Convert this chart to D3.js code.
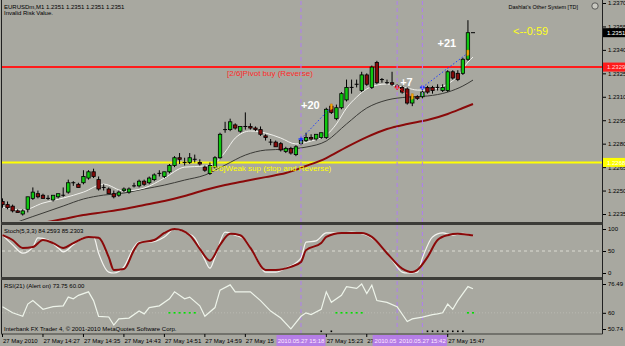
<!DOCTYPE html>
<html>
<head>
<meta charset="utf-8">
<script src="https://d3js.org/d3.v7.min.js"></script>
<style>
  body { margin: 0; background: #a8a8a0; }
  svg { display: block; }
  text { font-family: "Liberation Sans", Arial, sans-serif; }
</style>
</head>
<body>
<svg id="chart" width="625" height="346"></svg>
<script>

// EURUSDm M1, 27 May 2010, bars 14:19 .. 15:52
var openP = [1.2243,1.2241,1.2240,1.2237,1.2235,1.2238,1.2245,1.2248,1.2247,1.2245,
  1.2244,1.2246,1.2247,1.2249,1.2255,1.2254,1.2255,1.2258,1.2262,1.2257,
  1.2252,1.2251,1.2248,1.2247,1.2250,1.2249,1.2253,1.2253,1.2256,1.2255,
  1.2257,1.2261,1.2259,1.2262,1.2266,1.2271,1.2268,1.2268,1.2270,1.2268,
  1.2265,1.2261,1.2265,1.2271,1.2289,1.2289,1.2292,1.2288,1.2291,1.2291,
  1.2290,1.2289,1.2285,1.2281,1.2281,1.2280,1.2275,1.2277,1.2273,1.2280,
  1.2282,1.2284,1.2283,1.2284,1.2284,1.2304,1.2296,1.2303,1.2308,1.2316,
  1.2318,1.2314,1.2324,1.2316,1.2332,1.2321,1.2319,1.2319,1.2317,1.2316,
  1.2315,1.2306,1.2310,1.2310,1.2316,1.2316,1.2316,1.2314,1.2314,1.2326,
  1.2325,1.2325,1.2334,1.2351];
var highP = [1.2245,1.2243,1.2241,1.2238,1.2238,1.2246,1.2252,1.2250,1.2248,1.2247,
  1.2247,1.2248,1.2252,1.2257,1.2256,1.2255,1.2263,1.2263,1.2264,1.2259,
  1.2254,1.2252,1.2250,1.2250,1.2252,1.2252,1.2255,1.2257,1.2257,1.2259,
  1.2261,1.2263,1.2262,1.2267,1.2272,1.2274,1.2271,1.2274,1.2273,1.2270,
  1.2266,1.2268,1.2272,1.2287,1.2294,1.2296,1.2293,1.2291,1.2300,1.2293,
  1.2291,1.2291,1.2286,1.2283,1.2282,1.2281,1.2278,1.2278,1.2279,1.2284,
  1.2287,1.2286,1.2286,1.2287,1.2303,1.2305,1.2305,1.2313,1.2321,1.2321,
  1.2321,1.2326,1.2325,1.2330,1.2333,1.2322,1.2321,1.2326,1.2318,1.2317,
  1.2316,1.2311,1.2311,1.2314,1.2317,1.2317,1.2318,1.2318,1.2327,1.2327,
  1.2327,1.2335,1.2359,1.2351];
var lowP = [1.2239,1.2238,1.2236,1.2236,1.2234,1.2236,1.2244,1.2245,1.2245,1.2244,
  1.2243,1.2245,1.2246,1.2248,1.2253,1.2252,1.2254,1.2257,1.2258,1.2250,
  1.2250,1.2248,1.2245,1.2246,1.2249,1.2248,1.2252,1.2252,1.2253,1.2254,
  1.2256,1.2259,1.2258,1.2261,1.2265,1.2267,1.2266,1.2267,1.2268,1.2266,
  1.2262,1.2260,1.2264,1.2270,1.2287,1.2288,1.2289,1.2287,1.2289,1.2289,
  1.2288,1.2285,1.2282,1.2279,1.2278,1.2275,1.2274,1.2273,1.2272,1.2279,
  1.2281,1.2282,1.2282,1.2283,1.2283,1.2299,1.2295,1.2302,1.2307,1.2312,
  1.2316,1.2313,1.2317,1.2315,1.2318,1.2319,1.2318,1.2317,1.2315,1.2312,
  1.2305,1.2304,1.2308,1.2309,1.2312,1.2312,1.2314,1.2313,1.2313,1.2321,
  1.2320,1.2324,1.2333,1.2351];
var closeP = [1.2241,1.2239,1.2237,1.2236,1.2237,1.2246,1.2249,1.2246,1.2245,1.2245,
  1.2247,1.2248,1.2247,1.2255,1.2255,1.2252,1.2259,1.2262,1.2259,1.2251,
  1.2252,1.2248,1.2246,1.2249,1.2251,1.2251,1.2253,1.2256,1.2254,1.2258,
  1.2260,1.2261,1.2262,1.2266,1.2271,1.2270,1.2268,1.2271,1.2270,1.2267,
  1.2263,1.2266,1.2271,1.2286,1.2289,1.2294,1.2290,1.2291,1.2291,1.2290,
  1.2289,1.2286,1.2284,1.2281,1.2278,1.2276,1.2277,1.2274,1.2278,1.2282,
  1.2284,1.2283,1.2286,1.2287,1.2302,1.2300,1.2303,1.2312,1.2316,1.2316,
  1.2318,1.2324,1.2318,1.2329,1.2319,1.2321,1.2319,1.2318,1.2316,1.2313,
  1.2306,1.2310,1.2309,1.2313,1.2313,1.2314,1.2316,1.2316,1.2326,1.2322,
  1.2321,1.2334,1.2351,1.2351];

// moving averages, read at sample bars
var fastBars = [0,4,8,12,16,20,24,28,32,36,40,42,44,46,49,52,55,58,61,64,66,68,70,72,74,76,78,80,82,84,86,88,90,92,93];
var fastMA = [1.22394,1.22375,1.22420,1.22452,1.22490,1.22541,1.22497,1.22516,1.22580,1.22650,1.22657,1.22676,1.22746,1.22836,1.22881,1.22868,1.22836,1.22798,1.22817,1.22855,1.22926,1.23028,1.23098,1.23150,1.23175,1.23182,1.23169,1.23156,1.23143,1.23143,1.23156,1.23182,1.23233,1.23322,1.23354];
var midBars = [0,4,8,12,16,20,24,28,32,36,40,44,48,52,56,60,64,68,72,76,80,84,88,91,93];
var midMA = [1.22260,1.22311,1.22356,1.22401,1.22446,1.22471,1.22484,1.22510,1.22535,1.22567,1.22599,1.22663,1.22727,1.22759,1.22765,1.22778,1.22817,1.22926,1.23028,1.23079,1.23098,1.23105,1.23130,1.23169,1.23207];
var slowBars = [0,4,8,12,16,20,24,28,32,36,40,44,48,52,56,60,64,68,72,76,80,84,88,91,93];
var slowMA = [1.22209,1.22247,1.22292,1.22318,1.22343,1.22362,1.22382,1.22407,1.22433,1.22465,1.22503,1.22535,1.22561,1.22586,1.22612,1.22657,1.22708,1.22778,1.22842,1.22894,1.22926,1.22951,1.22990,1.23028,1.23054];

// stochastic (5,3,3)
var stochBars = [0,2,4,6,7,9,11,12,14,16,18,19,21,22,24,26,27,29,32,34,36,38,40,41,42,44,46,48,50,52,54,56,59,60,62,64,67,69,72,75,77,79,80,82,83,85,87,89,91,93];
var stochMain = [86,64,45,59,80,75,57,48,64,80,82,45,2,0,14,59,70,70,82,100,93,80,30,11,36,93,86,75,36,2,2,11,34,70,73,91,91,93,86,59,30,2,0,2,34,82,91,86,90,84];
var signalBars = [0,2,4,6,8,10,12,14,17,19,21,22,24,26,27,30,32,34,37,39,41,43,45,47,49,52,54,57,59,60,63,64,67,71,73,76,79,81,82,84,86,88,90,93];
var stochSignal = [86,75,57,59,75,68,57,68,82,80,36,7,9,52,68,75,91,100,86,55,28,64,89,86,57,7,7,14,25,52,68,82,91,91,82,45,10,2,7,36,75,86,89,85];

// RSI(21)
var rsiBars = [0,2,4,5,6,8,10,12,13,14,15,17,18,19,21,22,23,25,27,28,29,31,33,34,36,37,39,40,42,43,45,46,49,51,53,55,57,59,60,61,63,64,65,67,68,70,71,72,73,74,76,78,80,81,83,85,86,87,88,89,90,92,93];
var rsiVals = [63.5,60,58,65,67,62,63.5,64,69,68,70,72,67,58,57.6,53,56.5,57,61,59.4,63,64,68,72,68,69,64,58,63,73,76,72,72,67,61,57,50.8,58,60,59,62,72,66,70,75,74,76.49,71,75.8,67,66,63.5,55,56.5,57.5,59,59.4,60,65,62,67,75,73.75];
var rsiGreenDots = [33,34,35,36,37,38,66,67,68,69,70,71,92,93];
var blackDots = [63,65,84,85,86,87,88,89,90,91];

// levels and signals
var pivotBuy = 1.2329, weakSup = 1.2268, lastPrice = 1.2351;
var priceTicks = [1.2370,1.2355,1.2340,1.2325,1.2310,1.2295,1.2280,1.2265,1.2250,1.2235];
// time labels as visible on the terminal (parts under the line boxes are hidden)
var timeTickBars = [0,8,16,24,32,40,48,64,72,88];
var timeTickLabels = ["27 May 2010","27 May 14:27","27 May 14:35","27 May 14:43","27 May 14:51","27 May 14:59",
  "27 May 15","27 May 15:23","27","27 May 15:47"];
var vLineBars = [59,78,83];
var vLineLabels = ["2010.05.27 15:18","2010.05","2010.05.27 15:42"];
var tradeStart = [59,78,83], tradeStartP = [1.2283,1.2316,1.2316], tradeColor = ["#1f3cff","#ff2020","#1f3cff"];
var tradeEnd = [65,81,92], tradeEndP = [1.23035,1.2310,1.2338];
var pipLabels = ["+20","+7","+21"], pipBars = [59,78.6,86], pipP = [1.2302,1.2317,1.2342];

var svg = d3.select("#chart");
var left = 2, right = 602, boxW = 49;

var x = d3.scaleLinear().domain([0, 93]).range([2.5, 473]);
var y = d3.scaleLinear().domain([1.2235, 1.2370]).range([214, 3]);
var yS = d3.scaleLinear().domain([0, 100]).range([273, 229]);
var yR = d3.scaleLinear().domain([50.74, 76.49]).range([329, 284]);

var defs = svg.append("defs");
[["clipMain",1,221],["clipStoch",225,277],["clipRsi",280,333]].forEach(function(c) {
  defs.append("clipPath").attr("id", c[0]).append("rect")
    .attr("x", left).attr("y", c[1]).attr("width", right - left).attr("height", c[2] - c[1]);
});

svg.append("rect").attr("width", 625).attr("height", 346).attr("fill", "#a8a8a0");

var gMain = svg.append("g").attr("clip-path", "url(#clipMain)");

// level lines
gMain.append("line").attr("x1", left).attr("x2", right)
  .attr("y1", y(pivotBuy)).attr("y2", y(pivotBuy))
  .attr("stroke", "#ff1a1a").attr("stroke-width", 2);
gMain.append("line").attr("x1", left).attr("x2", right)
  .attr("y1", y(weakSup)).attr("y2", y(weakSup))
  .attr("stroke", "#ffff00").attr("stroke-width", 2);

// vertical lines across all panels
svg.selectAll("line.vl").data(vLineBars).join("line")
  .attr("class", "vl")
  .attr("x1", function(d) { return x(d); }).attr("x2", function(d) { return x(d); })
  .attr("y1", 1).attr("y2", 334)
  .attr("stroke", "#b07ef0").attr("stroke-width", 1).attr("stroke-dasharray", "4,3");

// moving averages
function maLine(bars, vals) {
  return d3.line().curve(d3.curveMonotoneX)
    .x(function(d, i) { return x(bars[i]); })
    .y(function(d) { return y(d); })(vals);
}
gMain.append("path").attr("d", maLine(slowBars, slowMA))
  .attr("fill", "none").attr("stroke", "#8a0a0a").attr("stroke-width", 2);
gMain.append("path").attr("d", maLine(midBars, midMA))
  .attr("fill", "none").attr("stroke", "#3a3a36").attr("stroke-width", 1);
gMain.append("path").attr("d", maLine(fastBars, fastMA))
  .attr("fill", "none").attr("stroke", "#f2f2ee").attr("stroke-width", 1);

// candles
var candles = openP.map(function(o, i) {
  return { i: i, o: o, h: highP[i], l: lowP[i], c: closeP[i] };
});
gMain.selectAll("line.wick").data(candles).join("line")
  .attr("class", "wick")
  .attr("x1", function(d) { return x(d.i); }).attr("x2", function(d) { return x(d.i); })
  .attr("y1", function(d) { return y(d.h); }).attr("y2", function(d) { return y(d.l); })
  .attr("stroke", "#000").attr("stroke-width", 1);
gMain.selectAll("rect.body").data(candles.filter(function(d) { return d.o !== d.c; })).join("rect")
  .attr("class", "body")
  .attr("x", function(d) { return x(d.i) - 1.7; })
  .attr("width", 3.4)
  .attr("y", function(d) { return y(Math.max(d.o, d.c)); })
  .attr("height", function(d) { return Math.max(1, Math.abs(y(d.o) - y(d.c))); })
  .attr("fill", function(d) { return d.c > d.o ? "#10c810" : "#860a0a"; })
  .attr("stroke", "#000").attr("stroke-width", 0.8);
gMain.selectAll("line.doji").data(candles.filter(function(d) { return d.o === d.c; })).join("line")
  .attr("class", "doji")
  .attr("x1", function(d) { return x(d.i) - 2; }).attr("x2", function(d) { return x(d.i) + 2; })
  .attr("y1", function(d) { return y(d.o); }).attr("y2", function(d) { return y(d.o); })
  .attr("stroke", "#000").attr("stroke-width", 1);

// trade signals
tradeStart.forEach(function(b, k) {
  var x0 = x(b), y0 = y(tradeStartP[k]), x1 = x(tradeEnd[k]), y1 = y(tradeEndP[k]);
  gMain.append("line").attr("x1", x0).attr("y1", y0).attr("x2", x1).attr("y2", y1)
    .attr("stroke", tradeColor[k]).attr("stroke-width", 1).attr("stroke-dasharray", "1.5,2");
  gMain.append("path").attr("d", "M" + (x0 - 2.5) + "," + y0 + "h5M" + x0 + "," + (y0 - 2.5) + "v5")
    .attr("stroke", tradeColor[k]).attr("stroke-width", 1.6);
  gMain.append("path").attr("d", "M" + (x1 - 1) + "," + (y1 - 3) + "l2,0l0,5l-2,1z")
    .attr("fill", "#ffb000").attr("stroke", "#c07000").attr("stroke-width", 0.5);
});
gMain.selectAll("text.pip").data(pipLabels).join("text")
  .attr("class", "pip")
  .attr("x", function(d, i) { return x(pipBars[i]); })
  .attr("y", function(d, i) { return y(pipP[i]); })
  .attr("fill", "#fff").attr("font-size", 11).attr("font-weight", "bold")
  .text(function(d) { return d; });

// level labels
gMain.append("text").attr("x", 227).attr("y", y(pivotBuy) + 8.5)
  .attr("fill", "#ff2a2a").attr("font-size", 8).text("[2/6]Pivot buy (Reverse)");
gMain.append("text").attr("x", 210).attr("y", y(weakSup) + 8.5)
  .attr("fill", "#ffff00").attr("font-size", 8).text("[2/6]Weak sup (stop and Reverse)");

// header texts
svg.append("text").attr("x", 4).attr("y", 8.5).attr("font-size", 6).attr("fill", "#000")
  .text("EURUSDm,M1  1.2351 1.2351 1.2351 1.2351");
svg.append("text").attr("x", 4).attr("y", 15).attr("font-size", 6).attr("fill", "#000")
  .text("Invalid Risk Value.");
svg.append("text").attr("x", 578).attr("y", 8.5).attr("font-size", 5.5).attr("fill", "#000")
  .attr("text-anchor", "end").text("Dashlat's Other System [TD]");
svg.append("circle").attr("cx", 595).attr("cy", 6).attr("r", 3.2)
  .attr("fill", "#c8c8c0").attr("stroke", "#404040").attr("stroke-width", 0.8);
svg.append("text").attr("x", 513).attr("y", 35).attr("font-family", "DejaVu Sans")
  .attr("font-size", 11).attr("fill", "#ffff20").text("<--0:59");

// stochastic panel
var gSt = svg.append("g").attr("clip-path", "url(#clipStoch)");
gSt.append("line").attr("x1", left).attr("x2", right).attr("y1", yS(50)).attr("y2", yS(50))
  .attr("stroke", "#e8e8e0").attr("stroke-width", 0.8).attr("stroke-dasharray", "3,3");
function panelLine(bars, vals, scale, curve) {
  return d3.line().curve(curve)
    .x(function(d, i) { return x(bars[i]); })
    .y(function(d) { return scale(d); })(vals);
}
gSt.append("path").attr("d", panelLine(stochBars, stochMain, yS, d3.curveMonotoneX))
  .attr("fill", "none").attr("stroke", "#f4f4f0").attr("stroke-width", 1.2);
gSt.append("path").attr("d", panelLine(signalBars, stochSignal, yS, d3.curveMonotoneX))
  .attr("fill", "none").attr("stroke", "#8a0a0a").attr("stroke-width", 2);
svg.append("text").attr("x", 4).attr("y", 233).attr("font-size", 6).attr("fill", "#000")
  .text("Stoch(5,3,3) 84.2593 85.2303");

// RSI panel
var gR = svg.append("g").attr("clip-path", "url(#clipRsi)");
gR.append("line").attr("x1", left).attr("x2", right).attr("y1", yR(60)).attr("y2", yR(60))
  .attr("stroke", "#bcbcb4").attr("stroke-width", 0.8).attr("stroke-dasharray", "1,2");
gR.append("path").attr("d", panelLine(rsiBars, rsiVals, yR, d3.curveLinear))
  .attr("fill", "none").attr("stroke", "#eef4ea").attr("stroke-width", 1.2);
gR.selectAll("rect.gd").data(rsiGreenDots).join("rect")
  .attr("class", "gd")
  .attr("x", function(d) { return x(d) - 1; }).attr("y", yR(60) - 0.8)
  .attr("width", 2).attr("height", 1.6).attr("fill", "#00e000");
gR.selectAll("rect.bd").data(blackDots).join("rect")
  .attr("class", "bd")
  .attr("x", function(d) { return x(d) - 0.8; }).attr("y", 330.5)
  .attr("width", 1.6).attr("height", 1.6).attr("fill", "#000");
svg.append("text").attr("x", 4).attr("y", 288).attr("font-size", 6).attr("fill", "#000")
  .text("RSI(21) (Alert on) 73.75 60.00");
svg.append("text").attr("x", 4).attr("y", 331).attr("font-size", 6).attr("fill", "#000")
  .text("Interbank FX Trader 4, \u00a9 2001-2010 MetaQuotes Software Corp.");

// panel frames and separators
svg.append("line").attr("x1", 1.5).attr("x2", 1.5).attr("y1", 0).attr("y2", 334)
  .attr("stroke", "#202020").attr("stroke-width", 1);
svg.append("line").attr("x1", right + 0.5).attr("x2", right + 0.5).attr("y1", 0).attr("y2", 334)
  .attr("stroke", "#202020").attr("stroke-width", 1);
[[222, 3], [277, 3], [333.5, 1]].forEach(function(s) {
  svg.append("rect").attr("x", 1).attr("y", s[0]).attr("width", right - 0.5).attr("height", s[1])
    .attr("fill", "#3c3c38");
});

// price axis
var axisP = d3.axisRight(y).tickValues(priceTicks).tickSize(3).tickPadding(2)
  .tickFormat(d3.format(".4f"));
var gAx = svg.append("g").attr("transform", "translate(" + (right + 1) + ",0)").call(axisP);
gAx.select(".domain").remove();
gAx.selectAll("text").attr("font-size", 6).attr("font-family", "Liberation Sans").attr("fill", "#000");

function priceBox(p, bg, fg) {
  var yy = y(p);
  svg.append("rect").attr("x", right + 1).attr("y", yy - 4.5).attr("width", 23).attr("height", 9).attr("fill", bg);
  svg.append("text").attr("x", right + 5).attr("y", yy + 2.2).attr("font-size", 6).attr("fill", fg)
    .text(d3.format(".4f")(p));
}
priceBox(lastPrice, "#000", "#fff");
priceBox(pivotBuy, "#ff1a1a", "#ffd8d8");
priceBox(weakSup, "#ffff00", "#fffff0");

// indicator axes
var axisS = d3.axisRight(yS).tickValues([0, 50, 100]).tickSize(3).tickPadding(2);
var gAS = svg.append("g").attr("transform", "translate(" + (right + 1) + ",0)").call(axisS);
gAS.select(".domain").remove();
gAS.selectAll("text").attr("font-size", 6).attr("font-family", "Liberation Sans").attr("fill", "#000");
var axisR = d3.axisRight(yR).tickValues([50.74, 60, 76.49]).tickSize(3).tickPadding(2)
  .tickFormat(function(d) { return d === 60 ? "60" : d3.format(".2f")(d); });
var gAR = svg.append("g").attr("transform", "translate(" + (right + 1) + ",0)").call(axisR);
gAR.select(".domain").remove();
gAR.selectAll("text").attr("font-size", 6).attr("font-family", "Liberation Sans").attr("fill", "#000");

// time axis
var gT = svg.append("g");
gT.selectAll("line.tt").data(timeTickBars).join("line")
  .attr("class", "tt")
  .attr("x1", function(d) { return x(d); }).attr("x2", function(d) { return x(d); })
  .attr("y1", 334).attr("y2", 337).attr("stroke", "#000");
gT.selectAll("text.tl").data(timeTickLabels).join("text")
  .attr("class", "tl")
  .attr("x", function(d, i) { return x(timeTickBars[i]) + 0.5; })
  .attr("y", 343).attr("font-size", 6).attr("fill", "#000")
  .text(function(d) { return d; });

// boxes for the vertical lines; each later box covers the one before it
vLineBars.forEach(function(b, k) {
  var bx = x(b) - boxW / 2;
  gT.append("rect").attr("x", bx).attr("y", 335).attr("width", boxW).attr("height", 11)
    .attr("fill", "#b57ee6");
  gT.append("text").attr("x", k === 1 ? bx + 2 : x(b)).attr("y", 343)
    .attr("text-anchor", k === 1 ? "start" : "middle")
    .attr("font-size", 6).attr("fill", "#ffe8ff").text(vLineLabels[k]);
});

</script>
</body>
</html>
